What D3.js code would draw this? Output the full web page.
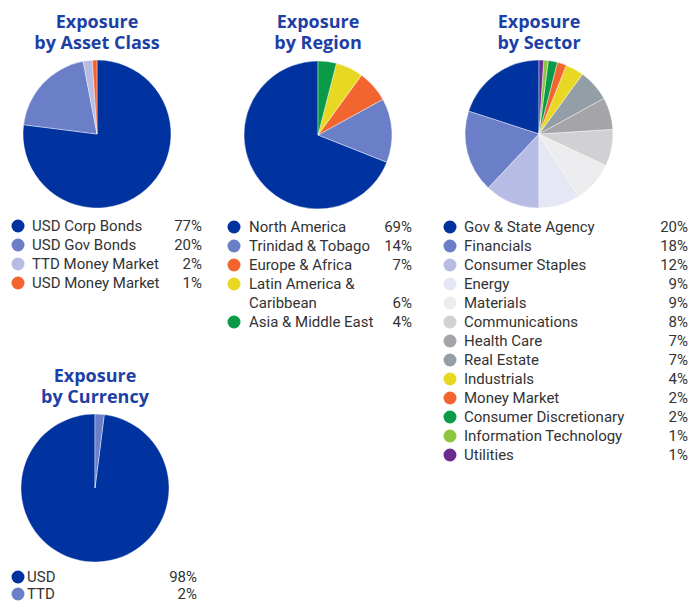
<!DOCTYPE html>
<meta charset="utf-8">
<style>
    body { margin: 0; background: #fff; }
    .title {
        fill: #1d3fa6;
        font: 700 18px "Open Sans", sans-serif;
        text-anchor: middle;
    }
    .legend text {
        fill: #333;
        font: 15px Roboto, sans-serif;
    }
    .legend .val { text-anchor: end; }
</style>
<svg class="chart" width="688" height="604"></svg>
<script src="https://cdn.jsdelivr.net/npm/d3@7"></script>
<script>

    // data
    var assetLabels = ["USD Corp Bonds", "USD Gov Bonds", "TTD Money Market", "USD Money Market"];
    var assetValues = [77, 20, 2, 1];
    var assetColors = ["#0033a0", "#6a7fc8", "#b7bce4", "#f26531"];

    var regionLabels = ["North America", "Trinidad & Tobago", "Europe & Africa", "Latin America &\nCaribbean", "Asia & Middle East"];
    var regionValues = [69, 14, 7, 6, 4];
    var regionColors = ["#0033a0", "#6a7fc8", "#f26531", "#e8d823", "#0b9a48"];

    var sectorLabels = ["Gov & State Agency", "Financials", "Consumer Staples", "Energy", "Materials",
        "Communications", "Health Care", "Real Estate", "Industrials", "Money Market",
        "Consumer Discretionary", "Information Technology", "Utilities"];
    var sectorValues = [20, 18, 12, 9, 9, 8, 7, 7, 4, 2, 2, 1, 1];
    var sectorColors = ["#0033a0", "#6a7fc8", "#b7bce4", "#e6e7f5", "#ececee", "#d1d1d3", "#a5a5a9",
        "#939ea6", "#e8d823", "#f26531", "#0b9a48", "#8cc63f", "#6a2c91"];

    var currencyLabels = ["USD", "TTD"];
    var currencyValues = [98, 2];
    var currencyColors = ["#0033a0", "#6a7fc8"];

    var svg = d3.select(".chart");
    var r = 74;

    function drawPie(opt) {
        var g = svg.append("g");
        var rowH = opt.rowH || 19;

        // two-line title in a single text
        var t = g.append("text").attr("class", "title")
            .attr("x", opt.cx).attr("y", opt.titleY);
        t.append("tspan").attr("x", opt.cx).text("Exposure");
        t.append("tspan").attr("x", opt.cx).attr("dy", 21).text(opt.title);

        var pie = d3.pie().sort(null)
            .startAngle(0)
            .endAngle(opt.cw ? 2 * Math.PI : -2 * Math.PI);
        var arc = d3.arc().innerRadius(0).outerRadius(r);

        g.append("g")
            .attr("transform", "translate(" + opt.cx + "," + opt.cy + ")")
            .selectAll("path")
            .data(pie(opt.values))
            .enter().append("path")
            .attr("d", arc)
            .attr("fill", function(d, i) { return opt.colors[i]; })
            .attr("stroke", "#fff")
            .attr("stroke-width", 0.4);

        // legend
        var leg = g.append("g").attr("class", "legend");
        var y = opt.legY;
        opt.labels.forEach(function(lab, i) {
            var lines = lab.split("\n");
            leg.append("circle")
                .attr("cx", opt.dotX).attr("cy", y)
                .attr("r", 6.5)
                .attr("fill", opt.colors[i]);
            lines.forEach(function(l, j) {
                leg.append("text")
                    .attr("x", opt.textX).attr("y", y + j * rowH)
                    .attr("dy", "0.35em")
                    .text(l);
            });
            leg.append("text").attr("class", "val")
                .attr("x", opt.valX).attr("y", y + (lines.length - 1) * rowH)
                .attr("dy", "0.35em")
                .text(opt.values[i] + "%");
            y += lines.length * rowH;
        });
    }

    drawPie({ title: "by Asset Class", cx: 97, cy: 134, titleY: 28, cw: true,
        labels: assetLabels, values: assetValues, colors: assetColors,
        legY: 226, dotX: 18, textX: 32, valX: 202 });

    drawPie({ title: "by Region", cx: 318, cy: 135, titleY: 28, cw: false,
        labels: regionLabels, values: regionValues, colors: regionColors,
        legY: 227, dotX: 234, textX: 249, valX: 412 });

    drawPie({ title: "by Sector", cx: 539, cy: 134, titleY: 28, cw: false,
        labels: sectorLabels, values: sectorValues, colors: sectorColors,
        legY: 227, dotX: 450, textX: 464, valX: 688 });

    drawPie({ title: "by Currency", cx: 95, cy: 488, titleY: 382, cw: false,
        labels: currencyLabels, values: currencyValues, colors: currencyColors,
        legY: 577, rowH: 17, dotX: 18, textX: 27, valX: 197 });

</script>
